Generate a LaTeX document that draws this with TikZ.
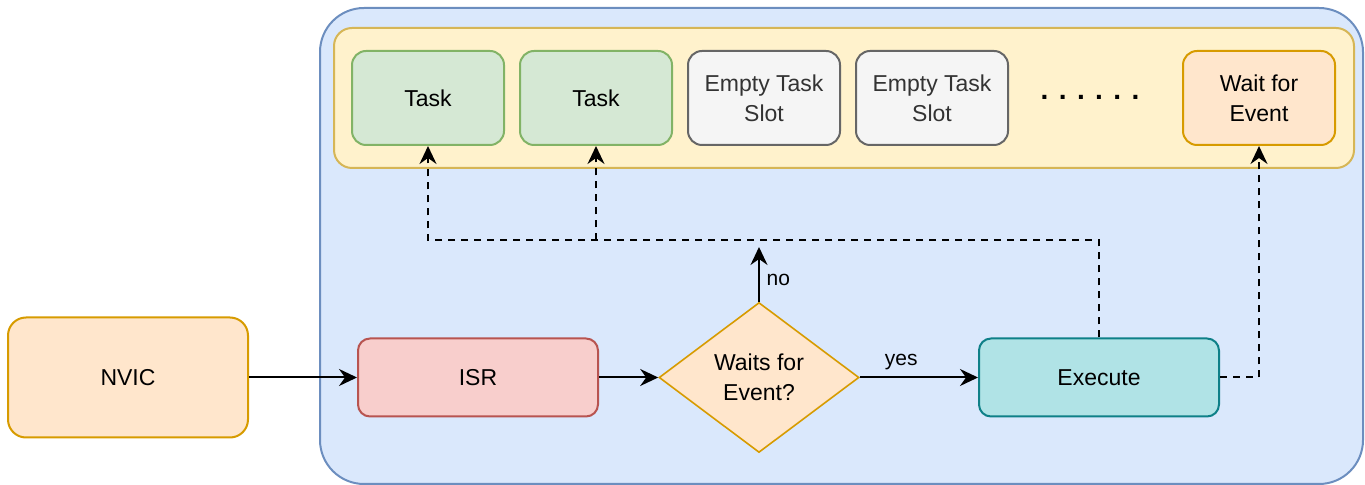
\documentclass[tikz,border=0pt]{standalone}
\usepackage{fontspec}
\setmainfont{Liberation Sans}
\usetikzlibrary{arrows.meta, positioning, shapes.geometric, backgrounds}

\begin{document}
\begin{tikzpicture}[
    x=0.5pt, y=-0.5pt,
    >={Stealth[length=9pt, width=8.5pt, inset=3pt]},
    node distance=7pt,
]
\definecolor{boardFill}{HTML}{DAE8FC}
\definecolor{boardLine}{HTML}{6C8EBF}
\definecolor{tableFill}{HTML}{FFF2CC}
\definecolor{tableLine}{HTML}{D6B656}
\definecolor{taskFill}{HTML}{D5E8D4}
\definecolor{taskLine}{HTML}{82B366}
\definecolor{slotFill}{HTML}{F5F5F5}
\definecolor{slotLine}{HTML}{666666}
\definecolor{slotText}{HTML}{333333}
\definecolor{waitFill}{HTML}{FFE6CC}
\definecolor{waitLine}{HTML}{D79B00}
\definecolor{isrFill}{HTML}{F8CECC}
\definecolor{isrLine}{HTML}{B85450}
\definecolor{execFill}{HTML}{B0E3E6}
\definecolor{execLine}{HTML}{0E8088}

\tikzset{
    block/.style={
        rectangle, rounded corners=7pt, line width=1pt, align=center,
        font=\fontsize{11.5}{15}\selectfont, inner sep=2pt,
    },
    taskbox/.style={block, draw=taskLine, fill=taskFill,
        minimum width=76pt, minimum height=47pt},
    slotbox/.style={block, draw=slotLine, fill=slotFill, text=slotText,
        minimum width=76pt, minimum height=47pt},
    waitbox/.style={block, draw=waitLine, fill=waitFill,
        minimum width=76pt, minimum height=47pt},
    nvicbox/.style={block, rounded corners=9pt, draw=waitLine, fill=waitFill,
        minimum width=120pt, minimum height=60pt},
    isrbox/.style={block, rounded corners=6pt, draw=isrLine, fill=isrFill,
        minimum width=120pt, minimum height=39pt},
    execbox/.style={block, rounded corners=6pt, draw=execLine, fill=execFill,
        minimum width=120pt, minimum height=39pt},
    decision/.style={
        diamond, aspect=1.33, draw=waitLine, fill=waitFill, line width=0.8pt,
        minimum width=100pt, minimum height=75pt, inner sep=0pt, align=center,
        font=\fontsize{11.5}{15}\selectfont,
    },
    flow/.style={->, line width=1pt, draw=black},
    dashflow/.style={flow, dash pattern=on 3.5pt off 3pt},
    edgelabel/.style={font=\fontsize{10.5}{12}\selectfont},
}

\useasboundingbox (0,0) rectangle (1365,485);

% scheduler container and task table
\draw[fill=boardFill, draw=boardLine, line width=1pt, rounded corners=22pt]
    (320,8) rectangle (1363,484);
\draw[fill=tableFill, draw=tableLine, line width=1pt, rounded corners=9pt]
    (334,28) rectangle (1354,168);

\node[taskbox] (task1) at (428,98) {Task};
\node[taskbox, right=of task1] (task2) {Task};
\node[slotbox, right=of task2] (slot1) {Empty Task\\Slot};
\node[slotbox, right=of slot1] (slot2) {Empty Task\\Slot};
\node[font=\fontsize{14}{14}\bfseries, inner sep=0pt] (more) at (1090,97) {. . . . . .};
\node[waitbox] (wait) at (1259,98) {Wait for\\Event};

% interrupt path
\node[nvicbox] (nvic) at (128,377.5) {NVIC};
\node[isrbox] (isr) at (478,377.5) {ISR};
\node[decision] (waits) at (759,377.5) {Waits for\\Event?};
\node[execbox] (exec) at (1099,377.5) {Execute};
\coordinate (noend) at (759,247);

\draw[flow] (nvic) -- (isr);
\draw[flow] (isr) -- (waits);
\draw[flow] (waits) -- node[above, edgelabel, pos=0.35] {yes} (exec);
\draw[flow] (waits.north) -- node[right, edgelabel, pos=0.4] {no} (noend);

\draw[dashflow] (exec.north) -- ++(0,-97) coordinate (bus) -| (task1.south);
\draw[dashflow] (task2.south |- bus) -- (task2.south);
\draw[dashflow] (exec.east) -| (wait.south);

\end{tikzpicture}
\end{document}
